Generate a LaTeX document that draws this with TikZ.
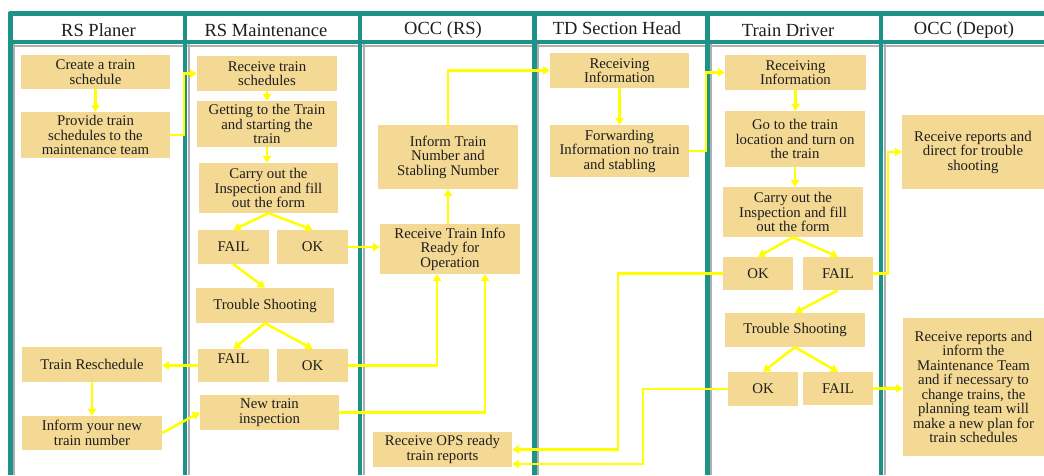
\documentclass[tikz,border=0pt]{standalone}
\usepackage{fontspec}
\setmainfont{Liberation Serif}
\usetikzlibrary{arrows.meta,calc}
\definecolor{lane}{RGB}{28,146,136}
\definecolor{laneshade}{RGB}{175,175,175}
\definecolor{boxfill}{RGB}{243,217,148}
\definecolor{flowyellow}{RGB}{255,255,0}
\definecolor{ink}{RGB}{30,30,30}
\tikzset{
  box/.style={fill=boxfill, text=ink, inner sep=0pt, align=center,
    font=\fontsize{14.8}{14.5}\selectfont},
  wbox/.style 2 args={box, minimum width=#1pt, minimum height=#2pt},
  head/.style={text=ink, inner sep=0pt, font=\fontsize{18.5}{20}\selectfont},
  lanerule/.style={draw=lane, line width=4.5pt},
  laneshadow/.style={draw=laneshade, line width=2pt},
  flow/.style={draw=flowyellow, line width=2.5pt,
    -{Triangle[length=7pt,width=8.5pt]}},
}
\begin{document}
\begin{tikzpicture}[x=1pt,y=-1pt]
\useasboundingbox (0,0) rectangle (1044,475);
\fill[white] (0,0) rectangle (1044,475);

% swimlane frame
\foreach \x in {10.5,185,360,534.5,707.5,881}
  \draw[laneshadow] (\x+3.6,44) -- (\x+3.6,475);
\draw[laneshadow] (10,45.5) -- (1044,45.5);
\draw[lanerule] (8.5,13.5) -- (1044,13.5);
\draw[lanerule] (8.5,42) -- (1044,42);
\foreach \x in {10.5,185,360,534.5,707.5,881}
  \draw[lanerule] (\x,11.5) -- (\x,475);

% lane titles
\node[head] (h1) at (98.5,30) {RS Planer};
\node[head] (h2) at (266,30) {RS Maintenance};
\node[head] (h3) at (443,30) {OCC (RS)};
\node[head] (h4) at (617,28) {TD Section Head};
\node[head] (h5) at (788,30) {Train Driver};
\node[head] (h6) at (964,30) {OCC (Depot)};

% RS Planer
\node[wbox={149}{34}] (p1) at (95.5,72) {Create a train\\schedule};
\node[wbox={149}{46}] (p2) at (95.5,135) {Provide train\\schedules to the\\maintenance team};
\node[wbox={140}{35}] (p3) at (92,364.5) {Train Reschedule};
\node[wbox={140}{34}] (p4) at (92,433) {Inform your new\\train number};

% RS Maintenance
\node[wbox={140}{35}] (m1) at (267,73.5) {Receive train\\schedules};
\node[wbox={140}{46}] (m2) at (267,124) {Getting to the Train\\and starting the\\train};
\node[wbox={139}{50}] (m3) at (268.5,188) {Carry out the\\Inspection and fill\\out the form};
\node[wbox={71}{34}] (m4) at (233.5,247) {FAIL};
\node[wbox={71}{34}] (m5) at (312.5,247) {OK};
\node[wbox={138}{35}] (m6) at (265,305.5) {Trouble Shooting};
\node[wbox={71}{33}] (m7) at (233.5,365.5) {\raisebox{2pt}[0pt][0pt]{FAIL}};
\node[wbox={71}{33}] (m8) at (312.5,365.5) {OK};
\node[wbox={139}{35}] (m9) at (269.5,412.5) {New train\\inspection};

% OCC (RS)
\node[wbox={140}{64}] (o1) at (448,157) {Inform Train\\Number and\\Stabling Number};
\node[wbox={140}{50}] (o2) at (450,249) {Receive Train Info\\Ready for\\Operation};
\node[wbox={139}{35}] (o3) at (442.5,449.5) {Receive OPS ready\\train reports};

% TD Section Head
\node[wbox={139}{35}] (t1) at (619.5,70.5) {Receiving\\Information};
\node[wbox={139}{52}] (t2) at (619.5,151) {Forwarding\\Information no train\\and stabling};

% Train Driver
\node[wbox={141}{35}] (d1) at (795.5,72.5) {Receiving\\Information};
\node[wbox={140}{56}] (d2) at (795,139) {Go to the train\\location and turn on\\the train};
\node[wbox={140}{50}] (d3) at (793,212) {Carry out the\\Inspection and fill\\out the form};
\node[wbox={70}{33}] (d4) at (758,273.5) {OK};
\node[wbox={70}{33}] (d5) at (838,273.5) {FAIL};
\node[wbox={140}{34}] (d6) at (795,330) {Trouble Shooting};
\node[wbox={70}{34}] (d7) at (763,389) {OK};
\node[wbox={70}{33}] (d8) at (838,388.5) {FAIL};

% OCC (Depot)
\node[wbox={142}{74}] (e1) at (973,152) {Receive reports and\\direct for trouble\\shooting};
\node[wbox={141}{138}] (e2) at (973.5,387) {Receive reports and\\inform the\\Maintenance Team\\and if necessary to\\change trains, the\\planning team will\\make a new plan for\\train schedules};

% connectors: planner and maintenance
\draw[flow] (p1) -- (p2);
\draw[flow] (p2.east) -- ++(14,0) |- (m1.west);
\draw[flow] (m1.south) -- (m1.south |- m2.north);
\draw[flow] (m2.south) -- (m2.south |- m3.north);
\draw[flow] (m3.south) -- (m4.north);
\draw[flow] (m3.south) -- (m5.north);
\draw[flow] (m4.south) -- (m6.north);
\draw[flow] (m6.south) -- (m7.north);
\draw[flow] (m6.south) -- (m8.north);
\draw[flow] (m7.west) -- (m7.west -| p3.east);
\draw[flow] (p3) -- (p4);
\draw[flow] (p4.east) -- (m9.west);

% connectors: towards OCC (RS) and TD
\draw[flow] (m5.east) -- (m5.east -| o2.west);
\draw[flow] (m8.east) -| ([xshift=-13pt]o2.south);
\draw[flow] (m9.east) -| ([xshift=35pt]o2.south);
\draw[flow] (o1.south |- o2.north) -- (o1.south);
\draw[flow] (o1.north) |- (t1.west);
\draw[flow] (t1) -- (t2);
\draw[flow] (t2.east) -- ++(17,0) |- (d1.west);

% connectors: train driver and depot
\draw[flow] (d1.south) -- (d1.south |- d2.north);
\draw[flow] (d2.south) -- (d2.south |- d3.north);
\draw[flow] (d3.south) -- (d4.north);
\draw[flow] (d3.south) -- (d5.north);
\draw[flow] (d5.east) -- ++(15,0) |- (e1.west);
\draw[flow] (d5.south) -- (d6.north);
\draw[flow] (d6.south) -- (d7.north);
\draw[flow] (d6.south) -- (d8.north);
\draw[flow] (d8.east) -- (d8.east -| e2.west);
\draw[flow] (d4.west) -- ++(-105,0) |- (o3.east);
\draw[flow] (d7.west) -- ++(-85,0) |- ([yshift=-14.5pt]o3.east);
\end{tikzpicture}
\end{document}
